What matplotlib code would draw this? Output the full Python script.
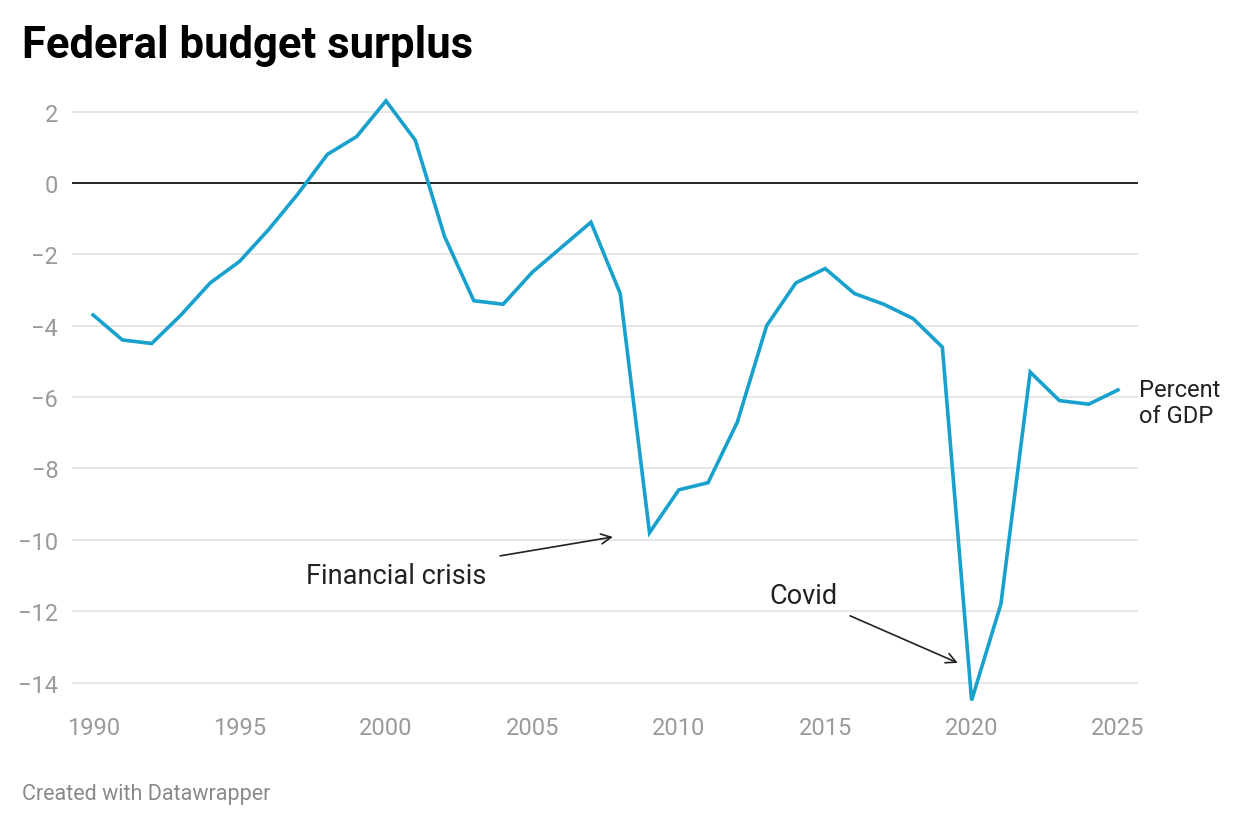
import matplotlib
matplotlib.use("Agg")
import matplotlib.pyplot as plt

plt.rcParams["font.family"] = ["Roboto", "DejaVu Sans"]

years = list(range(1990, 2026))
surplus = [-3.7, -4.4, -4.5, -3.7, -2.8, -2.2, -1.3, -0.3, 0.8, 1.3,
           2.3, 1.2, -1.5, -3.3, -3.4, -2.5, -1.8, -1.1, -3.1, -9.8,
           -8.6, -8.4, -6.7, -4.0, -2.8, -2.4, -3.1, -3.4, -3.8, -4.6,
           -14.5, -11.8, -5.3, -6.1, -6.2, -5.8]
y_ticks = [2, 0, -2, -4, -6, -8, -10, -12, -14]
x_ticks = [1990, 1995, 2000, 2005, 2010, 2015, 2020, 2025]

LINE = "#18a1cd"
GRID = "#e2e2e2"

fig = plt.figure(figsize=(12.4, 8.28), dpi=100)
ax = fig.add_axes([0.0581, 0.1486, 0.8596, 0.737])

for t in y_ticks:
    if t == 0:
        ax.axhline(0, color="#000000", lw=1.2, zorder=2)
    else:
        ax.axhline(t, color=GRID, lw=1.2, zorder=1)

ax.plot(years, surplus, color=LINE, lw=2.6, solid_joinstyle="miter", zorder=3)

ax.set_xlim(1989.28, 2025.68)
ax.set_ylim(-14.6, 2.5)
ax.set_yticks(y_ticks)
ax.set_yticklabels([str(t).replace("-", "\u2212") for t in y_ticks])
ax.set_xticks(x_ticks)
ax.tick_params(length=0, labelsize=17, labelcolor="#9a9a9a")
ax.tick_params(axis="y", pad=10)
ax.tick_params(axis="x", pad=9)
for s in ax.spines.values():
    s.set_visible(False)

ax.text(1997.27, -11.0, "Financial crisis", fontsize=19.5, color="#222222",
        ha="left", va="center")
ax.annotate("", xy=(2007.75, -9.92), xytext=(2003.9, -10.45),
            arrowprops=dict(arrowstyle="->", color="#222222", lw=1.2,
                            mutation_scale=18, shrinkA=0, shrinkB=0))
ax.text(2013.11, -11.57, "Covid", fontsize=19.5, color="#222222",
        ha="left", va="center")
ax.annotate("", xy=(2019.53, -13.45), xytext=(2015.85, -12.13),
            arrowprops=dict(arrowstyle="->", color="#222222", lw=1.2,
                            mutation_scale=18, shrinkA=0, shrinkB=0))
ax.text(2025.71, -6.16, "Percent\nof GDP", fontsize=17, color="#222222",
        ha="left", va="center", linespacing=1.15, clip_on=False)

fig.text(0.0177, 0.944, "Federal budget surplus", fontsize=31.4,
         fontweight="bold", color="#000000", ha="left", va="center")
fig.text(0.0177, 0.040, "Created with Datawrapper", fontsize=15.5,
         color="#8a8a8a", ha="left", va="center")

fig.savefig("out.png", dpi=100)
